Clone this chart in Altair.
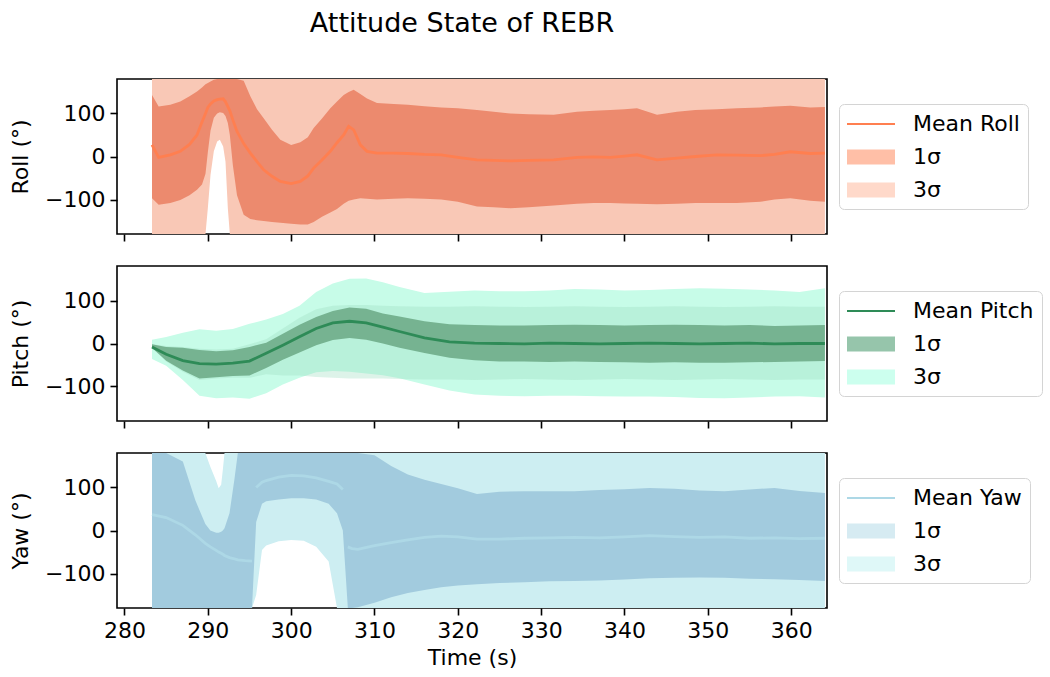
import altair as alt
import pandas as pd

FONT = "DejaVu Sans"

# ---------------- Roll ----------------
roll_t = [283.3, 284.1, 285.5, 286.7, 287.8, 288.7, 289.3, 289.72, 290.0, 290.32, 290.72,
          291.12, 291.44, 291.84, 292.12, 292.4, 292.64, 293.0, 293.5, 294.3, 295.1, 295.9,
          296.7, 297.7, 298.7, 300.0, 301.1, 302.0, 302.7, 303.7, 304.7, 305.5, 306.3, 306.9,
          307.5, 308.3, 309.1, 310.3, 312.3, 314.0, 316.0, 318.0, 320.0, 322.3, 324.3, 326.3,
          328.5, 331.5, 334.3, 336.3, 338.3, 340.0, 341.5, 343.9, 346.3, 348.5, 351.1, 353.5,
          356.3, 358.0, 359.9, 362.3, 364.05]
roll_mean = [27, -2, 4, 12, 28, 50, 80, 100, 114, 122, 129, 132, 133, 134, 127, 116, 106, 85,
             58, 30, 8, -12, -31, -46, -58, -63, -58, -45, -27, -8, 12, 32, 50, 70, 62, 27, 12,
             8, 8, 7, 5, 4, -2, -8, -9, -10, -9, -8, -2, -1, -2, 1, 4, -8, -4, 0, 4, 3, 2, 5,
             11, 7, 8]
roll_hi1 = [143, 116, 120, 128, 140, 151, 160, 168, 171, 174, 178, 180, 180, 180, 180, 180,
            180, 180, 180, 176, 140, 110, 89, 62, 39, 27, 33, 45, 66, 88, 112, 128, 143, 150,
            155, 145, 135, 124, 122, 120, 117, 114, 112, 108, 104, 100, 98, 97, 104, 106, 108,
            110, 112, 97, 104, 108, 110, 112, 114, 116, 118, 114, 115]
roll_lo1 = [-97, -112, -108, -101, -90, -77, -65, -40, 10, 60, 90, 100, 103, 101, 94, 78, 50,
            -20, -90, -135, -145, -148, -150, -152, -154, -156, -158, -158, -152, -140, -130,
            -122, -110, -103, -100, -97, -98, -100, -98, -97, -98, -100, -105, -116, -118,
            -120, -118, -114, -110, -108, -108, -109, -110, -111, -110, -108, -108, -108,
            -105, -100, -97, -103, -105]
roll_hi3 = [180] * 63
roll_lo3 = ([-180] * 8 + [-120, -43, 12, 35, 39, 23, -12, -120] + [-180] * 47)

# ---------------- Pitch ----------------
pitch_t = [283.3, 285, 287, 289, 291, 293, 295, 297, 299, 301, 303, 305, 307, 309, 311, 313,
           316, 319, 322, 325, 328, 331, 334, 337, 340, 343, 346, 349, 352, 355, 358, 361,
           364.05]
pitch_mean = [-8, -25, -40, -47, -48, -46, -41, -23, -4, 16, 35, 48, 52, 48, 38, 28, 13, 4, 1,
              0, -1, 1, 0, -1, 0, 1, 0, -1, 0, 1, -1, 0, 0]
pitch_hi1 = [-2, -8, -10, -15, -18, -16, -8, 2, 23, 44, 62, 76, 84, 81, 70, 63, 52, 45, 43, 42,
             42, 43, 44, 43, 42, 43, 44, 43, 42, 43, 41, 42, 43]
pitch_lo1 = [-10, -40, -63, -82, -79, -76, -75, -57, -38, -21, -4, 8, 13, 9, 0, -10, -22, -33,
             -39, -42, -42, -43, -42, -43, -44, -45, -44, -45, -45, -44, -43, -42, -41]
pitch_hi3 = [9, 15, 25, 33, 30, 34, 46, 56, 69, 88, 120, 140, 151, 152, 143, 132, 118, 121,
             124, 122, 122, 124, 127, 126, 124, 125, 127, 129, 128, 126, 124, 120, 129]
pitch_lo3 = [-36, -52, -85, -122, -128, -126, -129, -116, -96, -80, -67, -64, -66, -70, -74,
             -81, -96, -110, -119, -122, -123, -122, -122, -123, -124, -124, -125, -127, -128,
             -126, -124, -123, -126]
# spread of the individual runs
pitch_run_hi = [-2, -6, -8, -12, -14, -12, -2, 10, 35, 60, 80, 88, 90, 90, 88, 87, 86, 86, 87,
                86, 85, 86, 87, 86, 85, 86, 87, 86, 85, 86, 87, 86, 86]
pitch_run_lo = [-10, -42, -66, -85, -82, -80, -80, -72, -75, -75, -78, -80, -82, -82, -82, -83,
                -84, -84, -85, -84, -83, -84, -85, -84, -83, -84, -85, -84, -83, -84, -85, -84,
                -84]

# ---------------- Yaw ----------------
yaw_t = [283.3, 285, 287, 288.5, 289.7, 290.3, 291.0, 291.3, 291.6, 291.8, 292.0, 292.6, 293.2,
         293.6, 294.5, 295.3, 295.8, 296.5, 297.0, 298.5, 300.0, 301.5, 303.0, 304.5, 305.5,
         306.2, 306.8, 307.3, 308, 310, 312, 314, 316, 318, 320, 322.3, 325, 328, 331, 334,
         337, 340, 343, 346, 349, 352, 355, 358, 361, 364.05]
yaw_mean = [37, 30, 12, -10, -30, -38, -46, -50, -53, -55, -58, -63, -66, -68, -70, -71,
            100, 112, 116, 124, 128, 127, 122, 114, 108, 95,
            -38, -42, -44, -35, -28, -22, -16, -13, -15, -20, -20, -18, -17, -16, -17, -15,
            -12, -14, -16, -15, -18, -17, -19, -18]
# the mean wraps through +/-180, so it is drawn in separate pieces
yaw_piece = [0] * 16 + [1] * 10 + [2] * 24
yaw_hi1 = [180, 180, 160, 70, 15, 0, -5, -5, -3, 0, 5, 40, 120, 180, 180, 180, 180, 180, 180,
           180, 180, 180, 180, 180, 180, 180, 180, 180, 180, 175, 150, 130, 118, 108, 98, 85,
           90, 91, 91, 91, 94, 96, 99, 97, 93, 91, 95, 99, 92, 87]
yaw_lo1 = [-180, -180, -180, -180, -180, -180, -180, -180, -180, -180, -180, -180, -180, -180,
           -180, -180, 20, 62, 68, 72, 75, 75, 72, 62, 40, 0, -180, -180, -178, -168, -155,
           -145, -138, -132, -128, -125, -122, -120, -118, -117, -116, -114, -111, -110, -109,
           -110, -112, -113, -115, -117]
yaw_hi3 = [180, 180, 180, 180, 180, 148, 115, 98, 106, 141, 180] + [180] * 39
yaw_lo3 = ([-180] * 16 + [-150, -45, -35, -25, -22, -24, -38, -72] + [-180] * 26)

X_DOMAIN = [279.1, 364.3]
LINE_SHAPE = "M-2,-0.09H2V0.09H-2Z"
BOX_SHAPE = "M-2,-0.62H2V0.62H-2Z"
TXT = 22


def panel(t, mean, piece, lo1, hi1, lo3, hi3, ydom, ytitle, names, legend_colors,
          fill1, fill3, line_color, show_x, run_lo=None, run_hi=None):
    bands = pd.DataFrame({"t": t, "lo1": lo1, "hi1": hi1, "lo3": lo3, "hi3": hi3})
    means = pd.DataFrame({"t": t, "mean": mean, "piece": piece})

    xaxis = alt.Axis(values=list(range(280, 361, 10)), labels=show_x,
                     title="Time (s)" if show_x else None, tickSize=7, tickWidth=1.6,
                     labelPadding=5, titlePadding=6)
    yaxis = alt.Axis(values=[-100, 0, 100], title=ytitle, tickSize=7, tickWidth=1.6,
                     labelPadding=5, titlePadding=12)
    xs = alt.Scale(domain=X_DOMAIN, nice=False, zero=False)
    ys = alt.Scale(domain=ydom, nice=False, zero=False)

    def X():
        return alt.X("t:Q", scale=xs, axis=xaxis)

    def Y(field):
        return alt.Y(f"{field}:Q", scale=ys, axis=yaxis)

    layers = [
        alt.Chart(bands).mark_area(color=fill3, clip=True).encode(
            x=X(), y=Y("lo3"), y2="hi3:Q"),
    ]
    if run_lo is not None:
        runs = pd.DataFrame({"t": t, "lo": run_lo, "hi": run_hi})
        layers.append(
            alt.Chart(runs).mark_area(color="#9fdcc0", opacity=0.35, clip=True).encode(
                x=X(), y=Y("lo"), y2="hi:Q"))
    layers += [
        alt.Chart(bands).mark_area(color=fill1, clip=True).encode(
            x=X(), y=Y("lo1"), y2="hi1:Q"),
        alt.Chart(means).mark_line(color=line_color, strokeWidth=2.8, clip=True).encode(
            x=X(), y=Y("mean"), detail="piece:N"),
    ]

    leg = alt.Legend(title=None, orient="none", legendX=722, legendY=25,
                     direction="vertical", fillColor="white", strokeColor="#d4d4d4",
                     cornerRadius=5, padding=8, labelFont=FONT, labelFontSize=TXT,
                     labelColor="black", labelOffset=30, symbolSize=576, symbolOffset=12,
                     symbolOpacity=1, symbolStrokeWidth=0, rowPadding=10)
    keys = pd.DataFrame({"entry": names})
    layers.append(
        alt.Chart(keys).mark_point(filled=True, opacity=1).encode(
            color=alt.Color("entry:N", scale=alt.Scale(domain=names, range=legend_colors),
                            legend=leg),
            shape=alt.Shape("entry:N",
                            scale=alt.Scale(domain=names,
                                            range=[LINE_SHAPE, BOX_SHAPE, BOX_SHAPE]),
                            legend=leg),
        ).transform_filter("false")
    )
    return alt.layer(*layers).properties(width=710, height=155)


roll = panel(roll_t, roll_mean, [0] * len(roll_t), roll_lo1, roll_hi1, roll_lo3, roll_hi3,
             [-180, 180], "Roll (°)", ["Mean Roll", "1σ", "3σ"],
             ["#ff7f50", "#ffbfa7", "#ffd9ca"], "#ec8a6e", "#f9c8b6", "#ff7f50", False)
pitch = panel(pitch_t, pitch_mean, [0] * len(pitch_t), pitch_lo1, pitch_hi1, pitch_lo3,
              pitch_hi3, [-181, 181], "Pitch (°)", ["Mean Pitch", "1σ", "3σ"],
              ["#2e8b57", "#96c5ab", "#ccffee"], "#76b391", "#c7fce8", "#2e8b57", False,
              pitch_run_lo, pitch_run_hi)
yaw = panel(yaw_t, yaw_mean, yaw_piece, yaw_lo1, yaw_hi1, yaw_lo3, yaw_hi3,
            [-180, 180], "Yaw (°)", ["Mean Yaw", "1σ", "3σ"],
            ["#add8e6", "#d6ebf2", "#dff8f8"], "#a2cbde", "#cdeef2", "#add8e6", True)

chart = alt.vconcat(roll, pitch, yaw, spacing=32, bounds="flush").resolve_scale(
    color="independent", shape="independent", y="independent"
).resolve_legend(color="independent", shape="independent").properties(
    title=alt.TitleParams("Attitude State of REBR", fontSize=27, font=FONT,
                          fontWeight="normal", anchor="middle", dx=-64, offset=40,
                          color="black"),
    padding={"left": 8, "top": 10, "right": 5, "bottom": 5},
).configure_view(stroke="black", strokeWidth=1.6).configure_axis(
    domain=False, grid=False, tickColor="black", labelColor="black", titleColor="black",
    labelFont=FONT, titleFont=FONT, labelFontSize=TXT, titleFontSize=TXT,
    titleFontWeight="normal"
)

chart.save("out.html", embed_options={"renderer": "svg", "actions": False})
